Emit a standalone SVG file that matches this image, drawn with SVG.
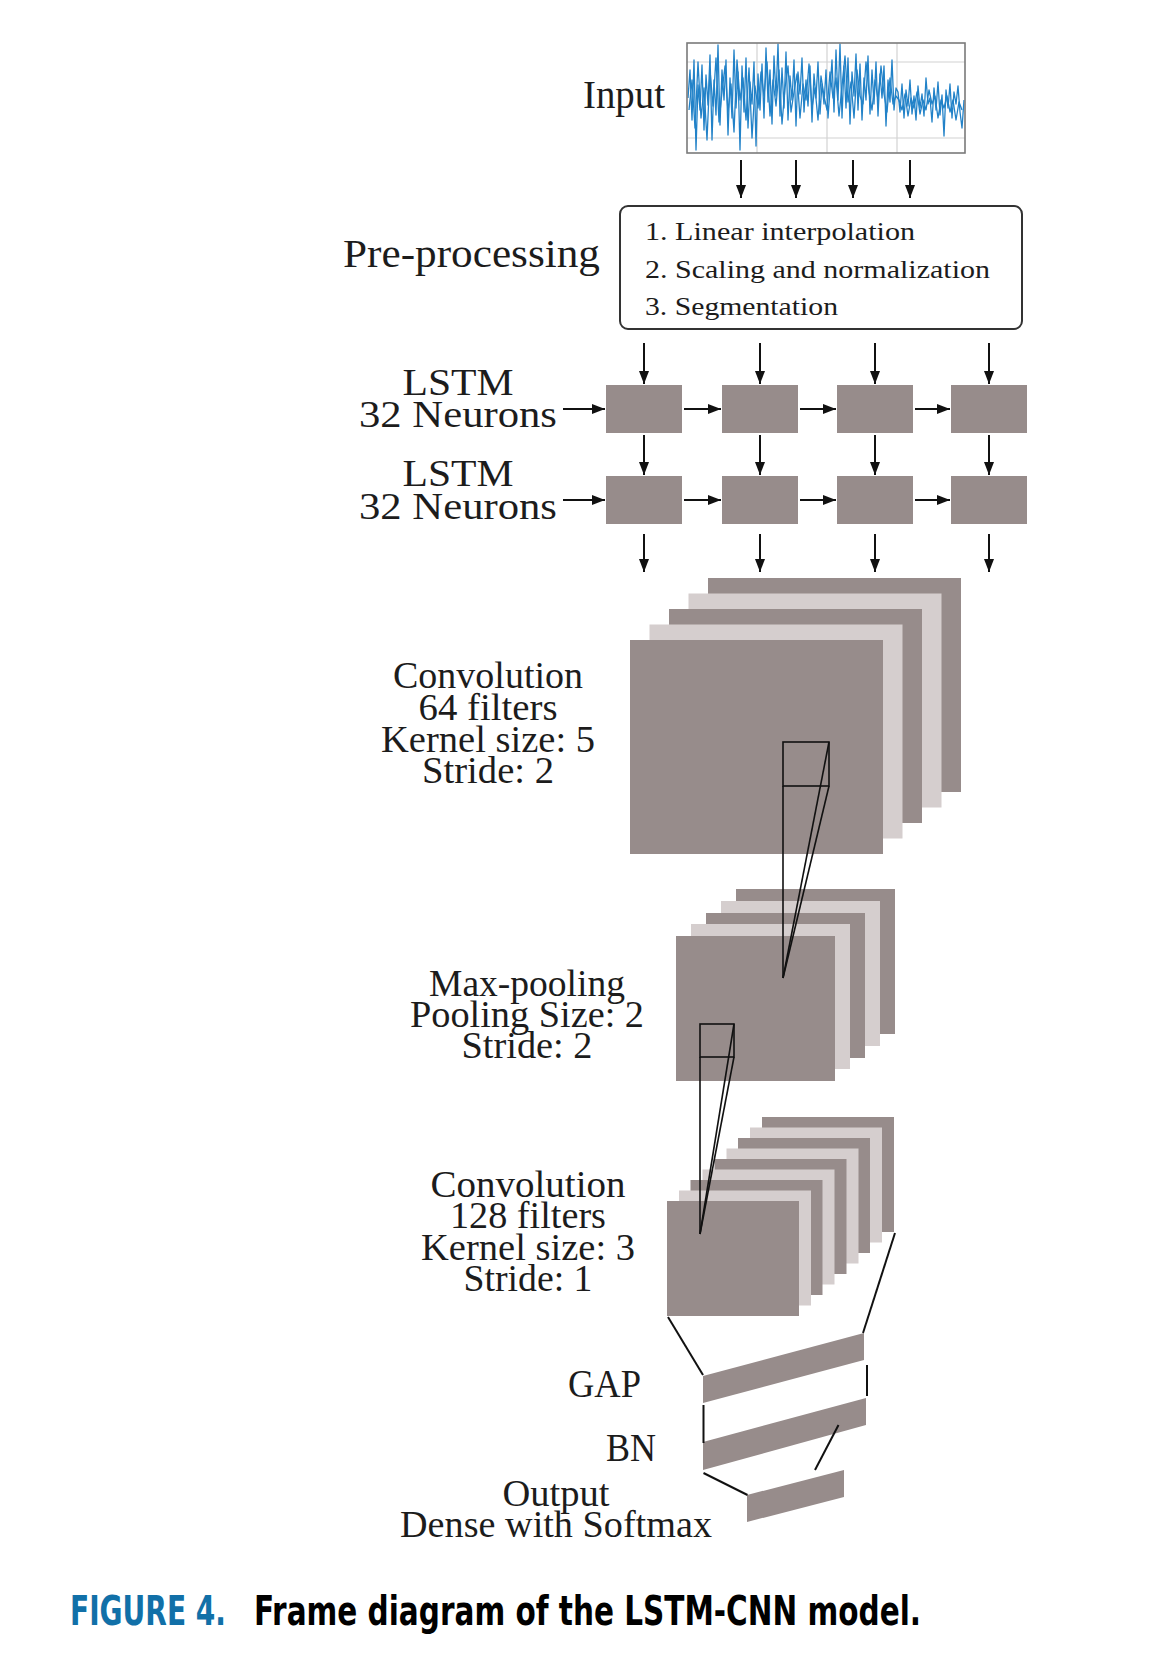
<svg xmlns="http://www.w3.org/2000/svg" width="1150" height="1678" viewBox="0 0 1150 1678">
<style>
.lbl{font-family:"Liberation Serif","Times New Roman",serif;font-size:37px;fill:#1c1c1c}
.pp{font-family:"Liberation Serif","Times New Roman",serif;font-size:26px;fill:#1c1c1c}
.dk{fill:#978c8b}
.lt{fill:#d5cece}
.ar{stroke:#111;stroke-width:2;fill:none;marker-end:url(#ah)}
.ln{stroke:#111;stroke-width:2;fill:none}
.kl{stroke:#111;stroke-width:1.6;fill:none}
.grid{stroke:#d2d2d2;stroke-width:1.2}
.cap{font-family:"DejaVu Sans Condensed","Open Sans","Liberation Sans",sans-serif;font-weight:bold;font-size:40px}
</style>
<defs>
<marker id="ah" markerUnits="userSpaceOnUse" markerWidth="13" markerHeight="10" refX="13" refY="5" orient="auto">
<path d="M0,0 L13,5 L0,10 z" fill="#111"/>
</marker>
<clipPath id="plotclip"><rect x="687" y="43" width="278" height="110"/></clipPath>
</defs>
<rect width="1150" height="1678" fill="#fff"/>

<g id="input">
<text class="lbl" x="583" y="108" textLength="82" lengthAdjust="spacingAndGlyphs" style="font-size:39px">Input</text>
<rect x="687" y="43" width="278" height="110" fill="#fff"/>
<line class="grid" x1="757" y1="43" x2="757" y2="153"/>
<line class="grid" x1="827" y1="43" x2="827" y2="153"/>
<line class="grid" x1="897" y1="43" x2="897" y2="153"/>
<line class="grid" x1="687" y1="62" x2="965" y2="62"/>
<line class="grid" x1="687" y1="138" x2="965" y2="138"/>
<g clip-path="url(#plotclip)" fill="none" stroke="#2282c8" stroke-width="1.3" stroke-linejoin="round">
<polyline points="688,98 690,70 692,120 694,60 696,150 698,85 700,110 702,65 704,130 706,75 708,105 710,55 712,140 714,80 716,115 718,45 720,125 722,70 724,100 726,60 728,135 730,78 732,118 734,50 736,108 738,72 740,150 742,66 744,112 746,58 748,128 750,82 752,104 754,62 756,146 758,74 760,110 762,64 764,118 766,48 768,102 770,70 772,124 774,56 776,96 778,44 780,116 782,68 784,108 786,52 788,120 790,76 792,100 794,60 796,126 798,72 800,94 802,58 804,112 806,80 808,106 810,66 812,122 814,74 816,98 818,62 820,114 822,84 824,104 826,70 828,118 830,90 832,60 834,112 836,50 838,100 840,44 842,118 844,66 846,108 848,58 850,124 852,72 854,96 856,54 858,110 860,64 862,120 864,78 866,100 868,56 870,114 872,70 874,104 876,62 878,116 880,74 882,98 884,66 886,126 888,80 890,102 892,60 894,110 896,88 898,92 900,112 902,84 904,118 906,90 908,106 910,80 912,114 914,96 916,120 918,86 920,108 922,94 924,116 926,78 928,104 930,98 932,122 934,88 936,110 938,82 940,115 942,95 944,136 946,90 948,108 950,84 952,118 954,92 956,104 958,86 960,112 962,128 964,100"/>
<polyline points="689,110 692,80 695,128 698,62 701,118 704,88 707,140 710,70 713,106 716,58 719,122 722,92 725,66 728,112 731,84 734,132 737,60 740,100 743,78 746,120 749,68 752,138 755,86 758,108 761,72 764,96 767,62 770,116 773,80 776,106 779,70 782,124 785,88 788,66 791,112 794,92 797,74 800,118 803,84 806,100 809,64 812,108 815,88 818,120 821,76 824,96 827,110 830,72 833,98 836,78 839,116 842,86 845,56 848,102 851,82 854,118 857,70 860,96 863,104 866,62 869,92 872,110 875,80 878,100 881,66 884,94 887,112 890,78 893,104 896,96 899,100 902,110 905,94 908,116 911,98 914,108 917,92 920,114 923,100 926,110 929,90 932,104 935,96 938,118 941,100 944,108 947,96 950,112 953,100 956,120 959,102 962,110"/>
</g>
<rect x="687" y="43" width="278" height="110" fill="none" stroke="#7a7a7a" stroke-width="1.6"/>
</g>

<g id="preprocessing">
<text class="lbl" x="343" y="267" textLength="257" lengthAdjust="spacingAndGlyphs" style="font-size:39px">Pre-processing</text>
<rect x="620" y="206" width="402" height="123" rx="8" fill="#fff" stroke="#333" stroke-width="2"/>
<text class="pp" x="645" y="240" textLength="270" lengthAdjust="spacingAndGlyphs">1. Linear interpolation</text>
<text class="pp" x="645" y="278" textLength="345" lengthAdjust="spacingAndGlyphs">2. Scaling and normalization</text>
<text class="pp" x="645" y="315" textLength="193" lengthAdjust="spacingAndGlyphs">3. Segmentation</text>
</g>

<g id="lstm1">
<text class="lbl" x="458" y="395" text-anchor="middle" textLength="111" lengthAdjust="spacingAndGlyphs">LSTM</text>
<text class="lbl" x="458" y="427" text-anchor="middle" textLength="198" lengthAdjust="spacingAndGlyphs">32 Neurons</text>
<rect class="dk" x="606" y="385" width="76" height="48"/>
<rect class="dk" x="722" y="385" width="76" height="48"/>
<rect class="dk" x="837" y="385" width="76" height="48"/>
<rect class="dk" x="951" y="385" width="76" height="48"/>
</g>

<g id="lstm2">
<text class="lbl" x="458" y="486" text-anchor="middle" textLength="111" lengthAdjust="spacingAndGlyphs">LSTM</text>
<text class="lbl" x="458" y="519" text-anchor="middle" textLength="198" lengthAdjust="spacingAndGlyphs">32 Neurons</text>
<rect class="dk" x="606" y="476" width="76" height="48"/>
<rect class="dk" x="722" y="476" width="76" height="48"/>
<rect class="dk" x="837" y="476" width="76" height="48"/>
<rect class="dk" x="951" y="476" width="76" height="48"/>
</g>

<g id="conv1">
<text class="lbl" x="488" y="688" text-anchor="middle" textLength="190" lengthAdjust="spacingAndGlyphs">Convolution</text>
<text class="lbl" x="488" y="720" text-anchor="middle" textLength="139" lengthAdjust="spacingAndGlyphs">64 filters</text>
<text class="lbl" x="488" y="752" text-anchor="middle" textLength="214" lengthAdjust="spacingAndGlyphs">Kernel size: 5</text>
<text class="lbl" x="488" y="783" text-anchor="middle" textLength="132" lengthAdjust="spacingAndGlyphs">Stride: 2</text>
<rect class="dk" x="708" y="578" width="253" height="214"/>
<rect class="lt" x="688.5" y="593.5" width="253" height="214"/>
<rect class="dk" x="669" y="609" width="253" height="214"/>
<rect class="lt" x="649.5" y="624.5" width="253" height="214"/>
<rect class="dk" x="630" y="640" width="253" height="214"/>
</g>

<g id="maxpool">
<text class="lbl" x="527" y="996" text-anchor="middle" textLength="196" lengthAdjust="spacingAndGlyphs">Max-pooling</text>
<text class="lbl" x="527" y="1027" text-anchor="middle" textLength="234" lengthAdjust="spacingAndGlyphs">Pooling Size: 2</text>
<text class="lbl" x="527" y="1058" text-anchor="middle" textLength="131" lengthAdjust="spacingAndGlyphs">Stride: 2</text>
<rect class="dk" x="736" y="889" width="159" height="145"/>
<rect class="lt" x="721" y="901" width="159" height="145"/>
<rect class="dk" x="706" y="913" width="159" height="145"/>
<rect class="lt" x="691" y="924" width="159" height="145"/>
<rect class="dk" x="676" y="936" width="159" height="145"/>
</g>

<g id="conv2">
<text class="lbl" x="528" y="1197" text-anchor="middle" textLength="195" lengthAdjust="spacingAndGlyphs">Convolution</text>
<text class="lbl" x="528" y="1228" text-anchor="middle" textLength="156" lengthAdjust="spacingAndGlyphs">128 filters</text>
<text class="lbl" x="528" y="1260" text-anchor="middle" textLength="214" lengthAdjust="spacingAndGlyphs">Kernel size: 3</text>
<text class="lbl" x="528" y="1291" text-anchor="middle" textLength="129" lengthAdjust="spacingAndGlyphs">Stride: 1</text>
<rect class="dk" x="762" y="1117" width="132" height="115"/>
<rect class="lt" x="750" y="1127.5" width="132" height="115"/>
<rect class="dk" x="738" y="1138" width="132" height="115"/>
<rect class="lt" x="726.5" y="1148.5" width="132" height="115"/>
<rect class="dk" x="714.5" y="1159" width="132" height="115"/>
<rect class="lt" x="702.5" y="1169.5" width="132" height="115"/>
<rect class="dk" x="690.5" y="1180" width="132" height="115"/>
<rect class="lt" x="679" y="1190.5" width="132" height="115"/>
<rect class="dk" x="667" y="1201" width="132" height="115"/>
</g>

<g id="gap">
<text class="lbl" x="568" y="1397" textLength="73" lengthAdjust="spacingAndGlyphs" style="font-size:39px">GAP</text>
<polygon class="dk" points="703,1376 864,1333 864,1360 703,1403"/>
</g>

<g id="bn">
<text class="lbl" x="606" y="1461" textLength="50" lengthAdjust="spacingAndGlyphs" style="font-size:39px">BN</text>
<polygon class="dk" points="703,1442 866,1398 866,1425 703,1470"/>
</g>

<g id="output">
<text class="lbl" x="556" y="1506" text-anchor="middle" textLength="107" lengthAdjust="spacingAndGlyphs">Output</text>
<text class="lbl" x="556" y="1537" text-anchor="middle" textLength="312" lengthAdjust="spacingAndGlyphs">Dense with Softmax</text>
<polygon class="dk" points="747,1495 844,1470 844,1497 747,1522"/>
</g>

<g id="connectors">
<line class="ar" x1="741" y1="160" x2="741" y2="198"/>
<line class="ar" x1="796" y1="160" x2="796" y2="198"/>
<line class="ar" x1="853" y1="160" x2="853" y2="198"/>
<line class="ar" x1="910" y1="160" x2="910" y2="198"/>

<line class="ar" x1="644" y1="343" x2="644" y2="384"/>
<line class="ar" x1="760" y1="343" x2="760" y2="384"/>
<line class="ar" x1="875" y1="343" x2="875" y2="384"/>
<line class="ar" x1="989" y1="343" x2="989" y2="384"/>

<line class="ar" x1="644" y1="435" x2="644" y2="475"/>
<line class="ar" x1="760" y1="435" x2="760" y2="475"/>
<line class="ar" x1="875" y1="435" x2="875" y2="475"/>
<line class="ar" x1="989" y1="435" x2="989" y2="475"/>

<line class="ar" x1="644" y1="534" x2="644" y2="572"/>
<line class="ar" x1="760" y1="534" x2="760" y2="572"/>
<line class="ar" x1="875" y1="534" x2="875" y2="572"/>
<line class="ar" x1="989" y1="534" x2="989" y2="572"/>

<line class="ar" x1="563" y1="409" x2="605" y2="409"/>
<line class="ar" x1="684" y1="409" x2="721" y2="409"/>
<line class="ar" x1="800" y1="409" x2="836" y2="409"/>
<line class="ar" x1="915" y1="409" x2="950" y2="409"/>

<line class="ar" x1="563" y1="500" x2="605" y2="500"/>
<line class="ar" x1="684" y1="500" x2="721" y2="500"/>
<line class="ar" x1="800" y1="500" x2="836" y2="500"/>
<line class="ar" x1="915" y1="500" x2="950" y2="500"/>

<rect class="kl" x="783" y="742" width="46" height="44"/>
<line class="kl" x1="783" y1="786" x2="783" y2="978"/>
<line class="kl" x1="829" y1="742" x2="783" y2="978"/>
<line class="kl" x1="829" y1="786" x2="783" y2="978"/>

<rect class="kl" x="700" y="1024" width="34" height="33"/>
<line class="kl" x1="700" y1="1057" x2="700" y2="1234"/>
<line class="kl" x1="734" y1="1024" x2="700" y2="1234"/>
<line class="kl" x1="734" y1="1057" x2="700" y2="1234"/>

<line class="ln" x1="668" y1="1317" x2="703" y2="1375"/>
<line class="ln" x1="895" y1="1233" x2="863" y2="1333"/>
<line class="ln" x1="703.5" y1="1405" x2="703.5" y2="1443"/>
<line class="ln" x1="867" y1="1365" x2="867" y2="1396"/>
<line class="ln" x1="703.5" y1="1473" x2="747.5" y2="1495"/>
<line class="ln" x1="838.5" y1="1425" x2="815" y2="1470"/>
</g>

<g id="caption">
<text class="cap" x="70" y="1625" fill="#1170a8" textLength="156" lengthAdjust="spacingAndGlyphs">FIGURE 4.</text>
<text class="cap" x="254" y="1625" fill="#000" textLength="667" lengthAdjust="spacingAndGlyphs">Frame diagram of the LSTM-CNN model.</text>
</g>
</svg>
